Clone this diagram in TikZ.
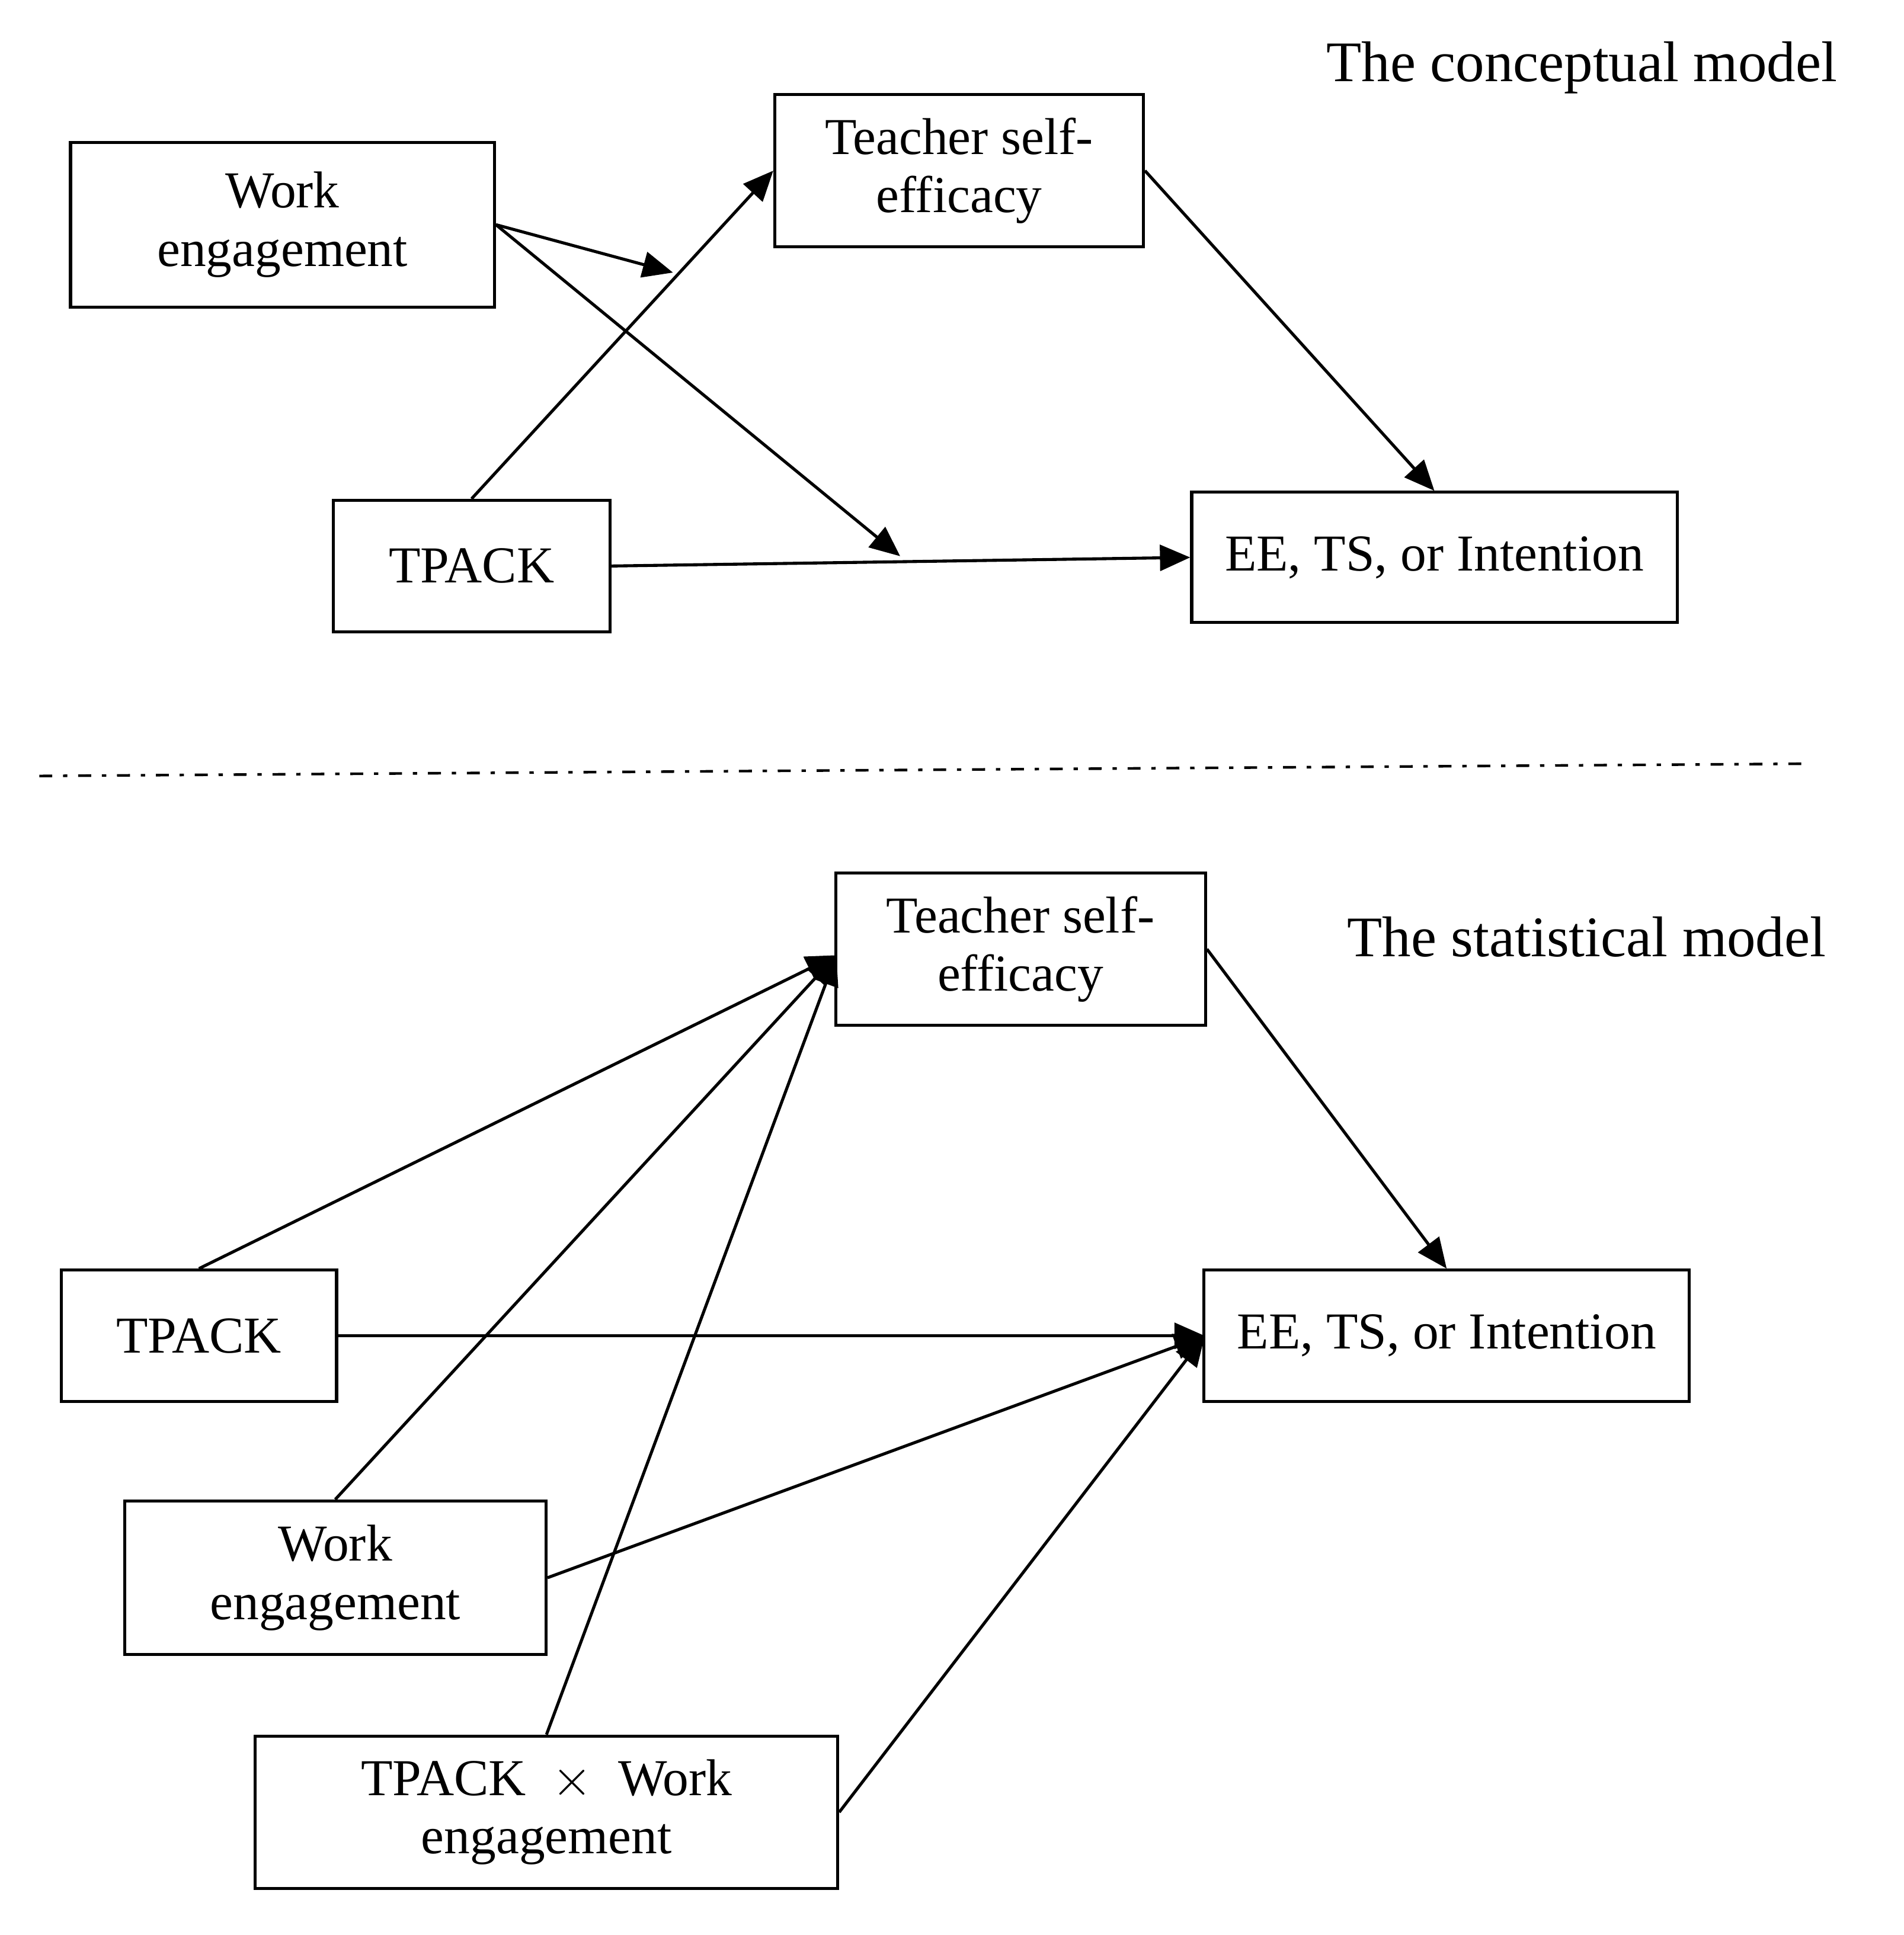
\documentclass[tikz,border=0pt]{standalone}
\usepackage{fontspec}
\setmainfont{Liberation Serif}
\usetikzlibrary{arrows.meta}
\begin{document}
\begin{tikzpicture}[x=0.01cm,y=-0.01cm,
  box/.style={draw,line width=0.7pt,align=center,font=\fontsize{12}{13.5}\selectfont,inner sep=0pt},
  arr/.style={line width=0.7pt,-{Triangle[length=7pt,width=6pt]}},
  ttl/.style={font=\fontsize{13.3}{16}\selectfont}]
\useasboundingbox (0,0) rectangle (1550,1576);
% conceptual
\node[box,minimum width=3.45cm,minimum height=1.34cm] (we1) at (230,183) {Work\\engagement};
\node[box,minimum width=3.00cm,minimum height=1.24cm] (tse1) at (781,139) {Teacher self-\\efficacy};
\node[box,minimum width=2.25cm,minimum height=1.07cm] (tp1) at (384,461) {TPACK};
\node[box,minimum width=3.95cm,minimum height=1.06cm] (out1) at (1168,454) {EE, TS, or Intention};
\node[ttl] (t1) at (1288,55) {The conceptual model};
\coordinate (m1) at (548,222);
\coordinate (m2) at (733,453);
\draw[arr] (we1.east) -- (m1);
\draw[arr] (we1.east) -- (m2);
\draw[arr] (tp1.north) -- (tse1.west);
\draw[arr] (tp1.east) -- (out1.west);
\draw[arr] (tse1.east) -- (out1.north);
% divider
\coordinate (d1) at (32,632);
\coordinate (d2) at (1475,622);
\draw[line width=0.6pt,dash pattern=on 3pt off 2.5pt on 1pt off 2.5pt] (d1) -- (d2);
% statistical
\node[box,minimum width=3.01cm,minimum height=1.24cm] (tse2) at (831,773) {Teacher self-\\efficacy};
\node[ttl] (t2) at (1292,763) {The statistical model};
\node[box,minimum width=2.24cm,minimum height=1.07cm] (tp2) at (162,1088) {TPACK};
\node[box,minimum width=3.95cm,minimum height=1.07cm] (out2) at (1178,1088) {EE, TS, or Intention};
\node[box,minimum width=3.43cm,minimum height=1.25cm] (we2) at (273,1285) {Work\\engagement};
\node[box,minimum width=4.74cm,minimum height=1.24cm] (int) at (445,1476) {TPACK\enspace$\times$\enspace Work\\engagement};
\coordinate (s) at (681,778);
\coordinate (o) at (981,1088);
\draw[arr] (tp2.north) -- (s);
\draw[arr] (we2.north) -- (s);
\draw[arr] (int.north) -- (s);
\draw[arr] (tse2.east) -- (out2.north);
\draw[arr] (tp2.east) -- (o);
\draw[arr] (we2.east) -- (o);
\draw[arr] (int.east) -- (o);
\end{tikzpicture}
\end{document}
